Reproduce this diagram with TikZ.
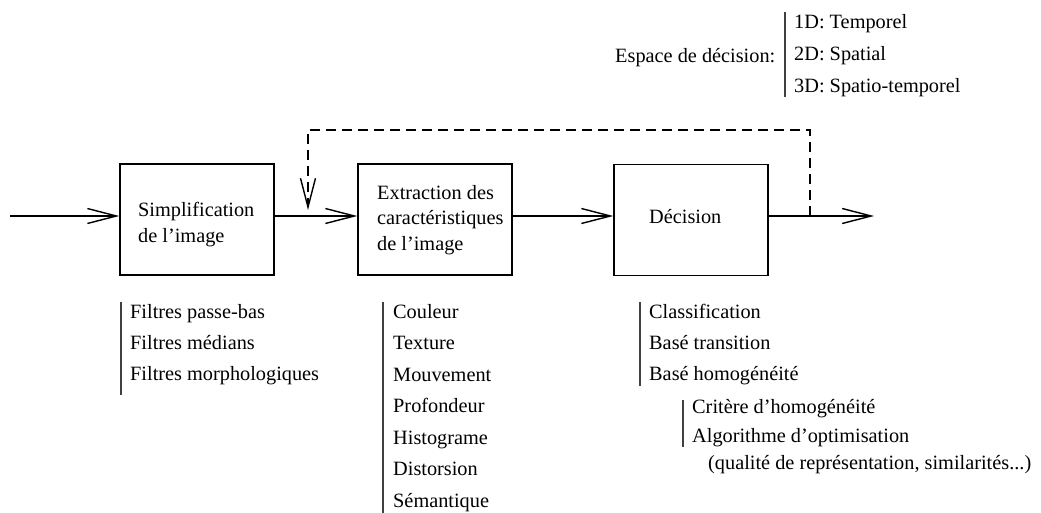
\documentclass[tikz,border=0pt]{standalone}
\usepackage{fontspec}
\setmainfont{Liberation Serif}
\usetikzlibrary{arrows.meta}
\begin{document}
\begin{tikzpicture}[x=1pt,y=-1pt,
  txt/.style={anchor=base west,inner sep=0pt,font=\fontsize{20.3}{24}\selectfont},
  box/.style={draw,line width=1.6pt,minimum width=154pt,minimum height=111pt,inner sep=0pt},
  flow/.style={line width=1.4pt,-{Straight Barb[length=29pt,width=15pt,line width=1.4pt]}},
  feedback/.style={flow,dash pattern=on 10pt off 6pt},
  bar/.style={line width=1.2pt,draw=black!75}]
\useasboundingbox (0,0) rectangle (1041,513);

% decision space
\node[txt] (esp) at (615,63) {Espace de décision:};
\draw[bar] (785,12) -- (785,97);
\node[txt] (d1) at (794,29) {1D: Temporel};
\node[txt] (d2) at (794,61) {2D: Spatial};
\node[txt] (d3) at (794,93) {3D: Spatio-temporel};

% processing chain
\node[box] (b1) at (197,219.5) {};
\node[box] (b2) at (435,219.5) {};
\node[box] (b3) at (691,220) {};
\node[txt] (b1a) at (138,217) {Simplification};
\node[txt] (b1b) at (138,242) {de l’image};
\node[txt] (b2a) at (377,200) {Extraction des};
\node[txt] (b2b) at (377,225) {caractéristiques};
\node[txt] (b2c) at (377,250) {de l’image};
\node[txt] (b3a) at (649,223) {Décision};

\coordinate (in) at (10,216);
\coordinate (out) at (874,216);
\coordinate (tap) at (810,216);
\coordinate (drop) at (308,210);

\draw[flow] (in) -- (in -| b1.west);
\draw[flow] (b1.east |- in) -- (b2.west |- in);
\draw[flow] (b2.east |- in) -- (b3.west |- in);
\draw[flow] (b3.east |- in) -- (out);
\draw[feedback] (tap) -- (810,130) -- (308,130) -- (drop);

% simplification methods
\draw[bar] (121,302) -- (121,395);
\node[txt] (s1) at (130,318) {Filtres passe-bas};
\node[txt] (s2) at (130,349) {Filtres médians};
\node[txt] (s3) at (130,380) {Filtres morphologiques};

% features
\draw[bar] (383,302) -- (383,513);
\node[txt] (f1) at (393,318) {Couleur};
\node[txt] (f2) at (393,349.5) {Texture};
\node[txt] (f3) at (393,381) {Mouvement};
\node[txt] (f4) at (393,412.5) {Profondeur};
\node[txt] (f5) at (393,444) {Histograme};
\node[txt] (f6) at (393,475.5) {Distorsion};
\node[txt] (f7) at (393,507) {Sémantique};

% decision methods
\draw[bar] (640,302) -- (640,386);
\node[txt] (m1) at (649,318) {Classification};
\node[txt] (m2) at (649,349) {Basé transition};
\node[txt] (m3) at (649,380) {Basé homogénéité};
\draw[bar] (683,400) -- (683,447);
\node[txt] (h1) at (692,413) {Critère d’homogénéité};
\node[txt] (h2) at (692,442) {Algorithme d’optimisation};
\node[txt] (h3) at (708,469) {(qualité de représentation, similarités...)};
\end{tikzpicture}
\end{document}
